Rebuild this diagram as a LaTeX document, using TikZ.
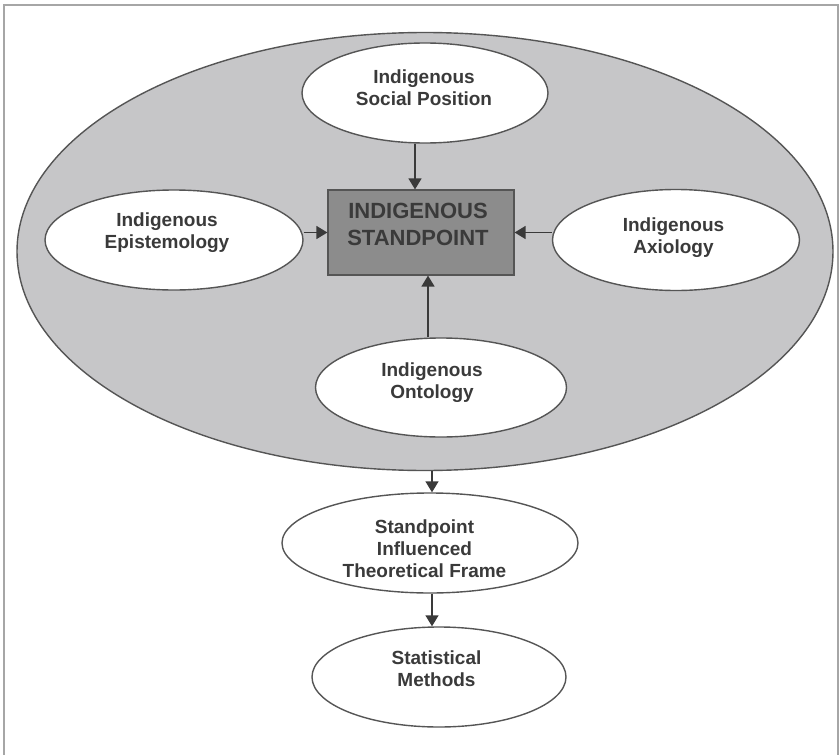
\documentclass[tikz,border=0pt]{standalone}
\usepackage{fontspec}
\setmainfont{Liberation Sans}
\usetikzlibrary{arrows.meta,shapes.geometric}
\definecolor{framegray}{HTML}{A6A6A6}
\definecolor{biggray}{HTML}{C6C6C8}
\definecolor{boxgray}{HTML}{8C8C8C}
\definecolor{linegray}{HTML}{555555}
\definecolor{txtgray}{HTML}{3A3A3A}
\tikzset{
  oval/.style={ellipse, draw=linegray, line width=1.4pt, fill=white, inner sep=0pt},
  lbl/.style={align=center, text=txtgray, font=\bfseries\fontsize{19}{22}\selectfont, inner sep=0pt},
  boxlbl/.style={align=center, text=txtgray, font=\bfseries\fontsize{22}{27}\selectfont, inner sep=0pt},
  arr/.style={draw=txtgray, line width=1.4pt, -{Triangle[length=11pt,width=13pt]}},
}
\begin{document}
\begin{tikzpicture}[x=1pt,y=-1pt]
\useasboundingbox (0,0) rectangle (839,755);
\fill[white] (0,0) rectangle (839,755);
\draw[framegray, line width=2.2pt] (4,770) -- (4,5) -- (838,5) -- (838,770);
% big ellipse
\node[ellipse, draw=linegray, line width=1.4pt, fill=biggray, inner sep=0pt,
      minimum width=816pt, minimum height=438pt] (big) at (425,251.5) {};
% central box
\node[draw=linegray, line width=1.2pt, fill=boxgray, inner sep=0pt,
      minimum width=186pt, minimum height=85pt] (std) at (421,232.5) {};
\node[boxlbl] (stdt) at (418,224) {INDIGENOUS\\STANDPOINT};
% surrounding ovals
\node[oval, minimum width=246pt, minimum height=100pt] (sp) at (425,93) {};
\node[lbl] (spt) at (424,87.5) {Indigenous\\Social Position};
\node[oval, minimum width=258pt, minimum height=100pt] (ep) at (174,240) {};
\node[lbl] (ept) at (167,233) {Indigenous\\Epistemology};
\node[oval, minimum width=247pt, minimum height=101pt] (ax) at (676,240) {};
\node[lbl] (axt) at (673.5,238) {Indigenous\\Axiology};
\node[oval, minimum width=251pt, minimum height=99pt] (on) at (441,387.5) {};
\node[lbl] (ont) at (432,383) {Indigenous\\Ontology};
% lower ovals
\node[oval, minimum width=296pt, minimum height=100pt] (tf) at (430,543) {};
\node[lbl] (tft) at (424.5,548.5) {Standpoint\\Influenced\\Theoretical Frame};
\node[oval, minimum width=254pt, minimum height=100pt] (sm) at (439,677) {};
\node[lbl] (smt) at (436.5,668.5) {Statistical\\Methods};
% connectors
\draw[arr] ([xshift=-6pt]std.north |- sp.south) -- ([xshift=-6pt]std.north);
\draw[arr] ([xshift=7pt]std.south |- on.north) -- ([xshift=7pt]std.south);
\draw[arr] (ep.east |- std.west) -- (std.west);
\draw[arr] (ax.west |- std.east) -- (std.east);
\draw[arr] ([xshift=7pt]big.south) -- ([xshift=7pt]big.south |- tf.north);
\draw[arr] ([xshift=2pt]tf.south) -- ([xshift=2pt]tf.south |- sm.north);
\end{tikzpicture}
\end{document}
